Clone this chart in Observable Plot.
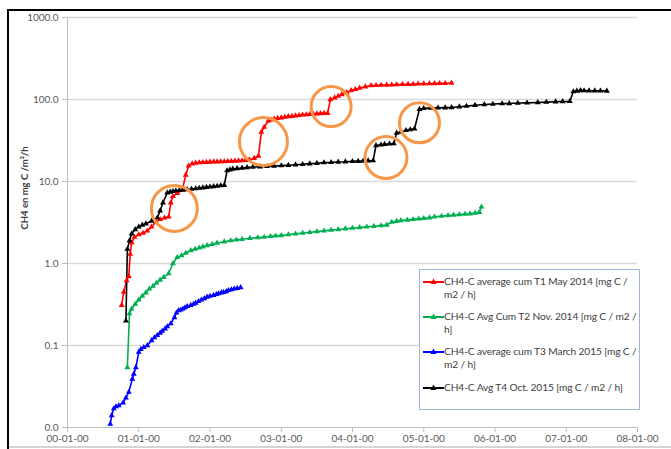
<!DOCTYPE html>
<html>
<head>
<meta charset="utf-8">
<script src="https://cdn.jsdelivr.net/npm/d3@7"></script>
<script src="https://cdn.jsdelivr.net/npm/@observablehq/plot@0.6"></script>
<style>
  html, body { margin: 0; padding: 0; background: #fff; }
  #wrap { position: relative; width: 671px; height: 449px; overflow: hidden; font-family: Lato, "Open Sans", sans-serif; }
  #legend { position: absolute; background: #fff; border: 1px solid #9db6da; box-sizing: border-box; }
  .lt { position: absolute; font-size: 10.2px; letter-spacing: -0.12px; color: #404040; white-space: pre; line-height: 13px; }
  .frameTop { position: absolute; left: 8px; top: 9px; width: 663px; height: 2px; background: #000; }
  .frameLeft { position: absolute; left: 7px; top: 9px; width: 2px; height: 440px; background: #000; }
  .frameBottom { position: absolute; left: 9px; top: 446px; width: 662px; height: 2px; background: #d4d4d4; }
</style>
</head>
<body>
<div id="wrap"></div>
<script>
// ---- data (x = elapsed days, y = CH4-C cumulative, mg C / m2 / h) ----
const seriesNames = [
  "CH4-C average cum T1 May 2014 [mg C / m2 / h]",
  "CH4-C Avg Cum T2 Nov. 2014 [mg C / m2 / h]",
  "CH4-C average cum T3 March 2015 [mg C / m2 / h]",
  "CH4-C Avg T4 Oct. 2015 [mg C / m2 / h]"
];
const legendLines = [
  ["CH4-C average cum T1 May 2014 [mg C /", "m2 / h]"],
  ["CH4-C Avg Cum T2 Nov. 2014 [mg C / m2 /", "h]"],
  ["CH4-C average cum T3 March 2015 [mg C /", "m2 / h]"],
  ["CH4-C Avg T4 Oct. 2015 [mg C / m2 / h]"]
];
const seriesColors = ["#ff0000", "#00b050", "#0000ff", "#000000"];

const t1Days = [0.76,0.79,0.83,0.86,0.88,0.90,0.94,1.00,1.06,1.12,1.18,1.24,1.30,1.36,1.42,1.45,1.48,1.54,1.61,1.66,1.70,1.75,1.80,1.85,1.90,1.95,2.00,2.05,2.10,2.15,2.20,2.25,2.30,2.35,2.40,2.45,2.50,2.55,2.62,2.68,2.72,2.76,2.82,2.86,2.90,2.95,3.00,3.05,3.10,3.15,3.20,3.25,3.30,3.35,3.40,3.45,3.50,3.55,3.60,3.65,3.69,3.75,3.80,3.85,3.92,3.98,4.04,4.10,4.18,4.26,4.33,4.40,4.48,4.55,4.62,4.70,4.78,4.85,4.92,5.00,5.08,5.15,5.22,5.30,5.39];
const t1Vals = [0.31,0.45,0.62,0.70,1.3,1.8,2.1,2.25,2.35,2.5,2.8,3.2,3.45,3.6,3.7,5.5,6.6,7.2,7.8,12,15.5,16.5,16.8,17,17.1,17.2,17.3,17.4,17.4,17.5,17.5,17.6,17.7,17.8,17.9,18.0,18.2,18.4,19.2,20.5,40,46,55,56.5,58,59,60,61,62,62.5,63.5,64,65,65.5,66,66.5,67,67.5,68,68,100,105,110,115,122,129,133,138,143,148,149,150,150.5,151,152,153,153.5,154,155,155.5,156,157,157.5,158,159];

const t2Days = [0.84,0.87,0.90,0.95,1.00,1.05,1.10,1.15,1.20,1.25,1.30,1.35,1.42,1.48,1.54,1.60,1.66,1.73,1.79,1.85,1.90,1.96,2.03,2.10,2.20,2.29,2.37,2.45,2.56,2.67,2.76,2.85,2.92,3.00,3.10,3.20,3.30,3.40,3.50,3.60,3.70,3.80,3.90,4.00,4.10,4.20,4.30,4.40,4.48,4.55,4.62,4.68,4.77,4.85,4.93,5.00,5.08,5.15,5.25,5.34,5.42,5.50,5.58,5.65,5.72,5.78,5.81];
const t2Vals = [0.054,0.245,0.28,0.32,0.36,0.40,0.44,0.49,0.53,0.58,0.63,0.68,0.755,1.0,1.19,1.25,1.34,1.44,1.5,1.55,1.6,1.66,1.72,1.78,1.84,1.9,1.94,1.98,2.03,2.07,2.1,2.14,2.17,2.2,2.25,2.3,2.35,2.4,2.45,2.5,2.55,2.6,2.65,2.7,2.75,2.8,2.85,2.9,2.95,3.2,3.28,3.35,3.4,3.45,3.5,3.55,3.62,3.7,3.78,3.85,3.9,3.95,4.0,4.05,4.12,4.2,4.9];

const t3Days = [0.60,0.62,0.65,0.68,0.72,0.78,0.82,0.86,0.91,0.93,0.96,1.00,1.03,1.07,1.12,1.18,1.22,1.26,1.30,1.33,1.37,1.40,1.45,1.50,1.53,1.56,1.59,1.62,1.65,1.68,1.73,1.77,1.80,1.84,1.88,1.92,1.96,2.00,2.05,2.09,2.12,2.16,2.19,2.23,2.26,2.30,2.34,2.38,2.43];
const t3Vals = [0.011,0.014,0.017,0.018,0.0185,0.020,0.023,0.027,0.039,0.045,0.054,0.083,0.09,0.095,0.10,0.115,0.125,0.133,0.142,0.15,0.16,0.17,0.185,0.22,0.25,0.267,0.272,0.28,0.29,0.30,0.31,0.32,0.33,0.345,0.36,0.375,0.39,0.40,0.41,0.42,0.43,0.44,0.446,0.455,0.47,0.48,0.49,0.50,0.51];

const t4Days = [0.82,0.84,0.87,0.90,0.95,1.00,1.05,1.10,1.18,1.26,1.30,1.34,1.40,1.44,1.48,1.52,1.57,1.62,1.68,1.74,1.80,1.85,1.90,1.95,2.00,2.05,2.10,2.15,2.20,2.24,2.28,2.32,2.38,2.45,2.52,2.60,2.70,2.80,2.90,3.00,3.10,3.20,3.30,3.40,3.50,3.60,3.70,3.80,3.90,4.00,4.08,4.15,4.22,4.29,4.33,4.40,4.45,4.52,4.58,4.62,4.68,4.75,4.81,4.87,4.94,5.00,5.10,5.20,5.30,5.39,5.50,5.60,5.72,5.85,5.97,6.10,6.20,6.32,6.45,6.60,6.72,6.85,6.95,7.05,7.10,7.15,7.20,7.25,7.32,7.40,7.48,7.57];
const t4Vals = [0.20,1.5,1.9,2.3,2.6,2.8,2.95,3.05,3.3,3.6,4.4,5.5,7.3,7.45,7.6,7.7,7.8,7.9,8.0,8.1,8.2,8.3,8.4,8.5,8.6,8.7,8.8,8.9,9.0,13.6,13.9,14.2,14.4,14.6,14.8,15.0,15.15,15.3,15.45,15.6,15.8,16.0,16.2,16.5,16.7,17.0,17.1,17.3,17.4,17.6,17.7,17.8,17.9,18.0,27.5,28,28.5,28.8,29,39,40,42,43,44,76,78,78.5,79,79.5,80,81.5,83,85,87,88,89,89.5,90.5,91,92,93,94,94.5,95,125,127,129,128.5,128,128,127.5,127];

const seriesDays = [t1Days, t2Days, t3Days, t4Days];
const seriesVals = [t1Vals, t2Vals, t3Vals, t4Vals];

// orange annotation circles (day, value, radius px)
const circleDays = [1.50, 2.75, 3.70, 4.47, 4.94];
const circleVals = [4.7, 30.7, 82, 19.6, 52];
const circleR = [23, 24, 20, 21, 20];

const xTickValues = [0,1,2,3,4,5,6,7,8];
const xTickLabels = ["00-01-00","01-01-00","02-01-00","03-01-00","04-01-00","05-01-00","06-01-00","07-01-00","08-01-00"];
const yTickValues = [0.01, 0.1, 1, 10, 100, 1000];
const yTickLabels = ["0.0", "0.1", "1.0", "10.0", "100.0", "1000.0"];
const yTitle = "CH4 en mg C /m²/h";

// ---- build tables ----
const rows = [];
seriesNames.forEach((name, s) => {
  seriesDays[s].forEach((d, i) => rows.push({series: name, day: d, value: seriesVals[s][i]}));
});
const circles = circleDays.map((d, i) => ({day: d, value: circleVals[i], r: circleR[i]}));
const xLab = new Map(xTickValues.map((v, i) => [v, xTickLabels[i]]));
const yLab = new Map(yTickValues.map((v, i) => [v, yTickLabels[i]]));

const chart = Plot.plot({
  width: 671,
  height: 449,
  marginLeft: 67,
  marginRight: 34,
  marginTop: 17,
  marginBottom: 22,
  style: {fontFamily: "Lato, 'Open Sans', sans-serif", background: "transparent"},
  x: {domain: [0, 8]},
  y: {type: "log", domain: [0.01, 1000]},
  color: {domain: seriesNames, range: seriesColors},
  marks: [
    Plot.ruleY(yTickValues.slice(1), {stroke: "#d9d9d9", strokeWidth: 1.5}),
    Plot.ruleX([0], {stroke: "#bfbfbf", strokeWidth: 1}),
    Plot.ruleY([0.01], {stroke: "#bfbfbf", strokeWidth: 1}),
    Plot.axisY({ticks: yTickValues, tickFormat: d => yLab.get(d), tickSize: 5, tickPadding: 4, fontSize: 10, color: "#595959", stroke: "#bfbfbf", label: null}),
    Plot.axisX({ticks: xTickValues, tickFormat: d => xLab.get(d), tickSize: 5, tickPadding: 2, fontSize: 10, color: "#595959", stroke: "#bfbfbf", label: null}),
    Plot.text([yTitle], {frameAnchor: "left", dx: -43, dy: 7, rotate: -90, fontWeight: "bold", fontSize: 9.5, fill: "#404040"}),
    Plot.line(rows, {x: "day", y: "value", z: "series", stroke: "series", strokeWidth: 1.6}),
    Plot.dot(rows, {x: "day", y: "value", fill: "series", symbol: "triangle", r: 2.2, stroke: null}),
    ...circles.map(c => Plot.dot([c], {x: "day", y: "value", r: c.r, stroke: "#f79646", strokeWidth: 3, fill: "none"}))
  ]
});
const wrap = document.getElementById("wrap");
wrap.appendChild(chart);

// frame lines of the chart area
["frameTop", "frameLeft", "frameBottom"].forEach(c => {
  const d = document.createElement("div"); d.className = c; wrap.appendChild(d);
});

// legend
const legend = document.createElement("div");
legend.id = "legend";
legend.style.left = "419px"; legend.style.top = "269px";
legend.style.width = "221px"; legend.style.height = "141px";
wrap.appendChild(legend);
const rowTops = [5, 40, 75, 111];
legendLines.forEach((lines, i) => {
  const sw = document.createElementNS("http://www.w3.org/2000/svg", "svg");
  sw.setAttribute("width", 22); sw.setAttribute("height", 10);
  sw.style.position = "absolute"; sw.style.left = "3px"; sw.style.top = (rowTops[i] + 2) + "px";
  sw.innerHTML = `<line x1="0" y1="5" x2="21" y2="5" stroke="${seriesColors[i]}" stroke-width="2"/>` +
    `<path d="M10.5,1.5 L13.5,7 L7.5,7 Z" fill="${seriesColors[i]}"/>`;
  legend.appendChild(sw);
  const t = document.createElement("div");
  t.className = "lt";
  t.style.left = "24px"; t.style.top = (rowTops[i]) + "px";
  t.textContent = lines.join("\n");
  legend.appendChild(t);
});
</script>
</body>
</html>
